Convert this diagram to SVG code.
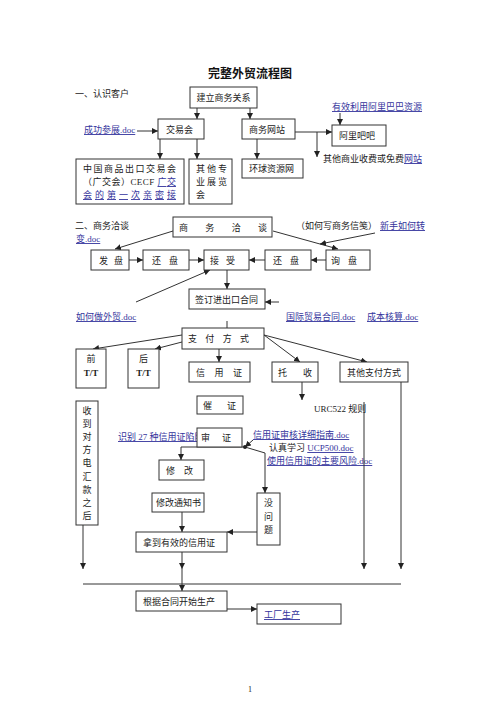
<svg xmlns="http://www.w3.org/2000/svg" width="500" height="707" viewBox="0 0 500 707">
<style>
.bg{fill:#fff}
.b{fill:#fff;stroke:#333;stroke-width:1}
.t{font-family:"Liberation Serif","Noto Sans CJK SC",serif;font-size:9px;fill:#222}
.l{fill:#34349c;text-decoration:underline}
.c line,.c path,.c polyline{stroke:#333;stroke-width:1;fill:none}
.ti{font-family:"Liberation Serif","Noto Sans CJK SC",serif;font-size:12px;font-weight:bold;fill:#111}
</style>
<defs>
<marker id="a" markerUnits="userSpaceOnUse" markerWidth="6" markerHeight="6" refX="6" refY="3" orient="auto"><path d="M0,0 L6,3 L0,6 z" fill="#222"/></marker>
</defs>
<rect class="bg" x="0" y="0" width="500" height="707"/>
<text class="ti" x="250" y="78" text-anchor="middle">完整外贸流程图</text>

<g id="labels" class="t">
<text x="75" y="97">一、认识客户</text>
<text x="84" y="133" class="l">成功参展.doc</text>
<text x="332" y="110" class="l">有效利用阿里巴巴资源</text>
<text x="323" y="162">其他商业收费或免费<tspan class="l">网站</tspan></text>
<text x="75" y="229">二、商务洽谈</text>
<text x="76" y="242" class="l">变.doc</text>
<text x="296" y="229">（如何写商务信笺）</text>
<text x="380" y="229" class="l">新手如何转</text>
<text x="76" y="320" class="l">如何做外贸.doc</text>
<text x="286" y="320" class="l">国际贸易合同.doc</text>
<text x="367" y="320" class="l">成本核算.doc</text>
<text x="314" y="412">URC522 规则</text>
<text x="118" y="440" class="l">识别 27 种信用证陷阱</text>
<text x="253" y="438" class="l">信用证审核详细指南.doc</text>
<text x="269" y="451">认真学习 <tspan class="l">UCP500.doc</tspan></text>
<text x="267" y="464" class="l">使用信用证的主要风险.doc</text>
<text x="250" y="692" text-anchor="middle" style="font-size:8px">1</text>
</g>

<g id="connectors" class="c">
<line x1="197" y1="108" x2="197" y2="119" marker-end="url(#a)"/>
<line x1="250" y1="108" x2="250" y2="119" marker-end="url(#a)"/>
<line x1="137" y1="131" x2="158" y2="131" marker-end="url(#a)"/>
<line x1="160" y1="139" x2="160" y2="159" marker-end="url(#a)"/>
<line x1="197" y1="139" x2="197" y2="159" marker-end="url(#a)"/>
<line x1="257" y1="139" x2="257" y2="159" marker-end="url(#a)"/>
<line x1="295" y1="132" x2="332" y2="132" marker-end="url(#a)"/>
<line x1="317" y1="132" x2="317" y2="157" marker-end="url(#a)"/>
<line x1="340" y1="113" x2="340" y2="125" marker-end="url(#a)"/>
<line x1="173" y1="231" x2="115" y2="249" marker-end="url(#a)"/>
<line x1="273" y1="231" x2="338" y2="249" marker-end="url(#a)"/>
<line x1="375" y1="233" x2="320" y2="244" marker-end="url(#a)"/>
<line x1="129" y1="260" x2="143" y2="260" marker-end="url(#a)"/>
<line x1="189" y1="260" x2="204" y2="260" marker-end="url(#a)"/>
<line x1="265" y1="260" x2="249" y2="260" marker-end="url(#a)"/>
<line x1="326" y1="260" x2="311" y2="260" marker-end="url(#a)"/>
<line x1="136" y1="302" x2="210" y2="270" marker-end="url(#a)"/>
<line x1="227" y1="270" x2="227" y2="289" marker-end="url(#a)"/>
<line x1="279" y1="302" x2="265" y2="302" marker-end="url(#a)"/>
<line x1="227" y1="321" x2="227" y2="328"/>
<line x1="182" y1="335" x2="93" y2="349" marker-end="url(#a)"/>
<line x1="182" y1="342" x2="155" y2="349" marker-end="url(#a)"/>
<line x1="219" y1="349" x2="219" y2="362" marker-end="url(#a)"/>
<line x1="264" y1="335" x2="300" y2="362" marker-end="url(#a)"/>
<line x1="264" y1="335" x2="367" y2="362" marker-end="url(#a)"/>
<line x1="302" y1="382" x2="302" y2="400" marker-end="url(#a)"/>
<line x1="364" y1="402" x2="364" y2="569" marker-end="url(#a)"/>
<line x1="401" y1="382" x2="401" y2="569" marker-end="url(#a)"/>
<line x1="83" y1="525" x2="83" y2="569" marker-end="url(#a)"/>
<line x1="83" y1="584" x2="401" y2="584"/>
<line x1="182" y1="552" x2="182" y2="569" marker-end="url(#a)"/>
<line x1="182" y1="569" x2="182" y2="591" marker-end="url(#a)"/>
<line x1="227" y1="609" x2="257" y2="609" marker-end="url(#a)"/>
<polyline points="245,447 181,447 181,460" marker-end="url(#a)"/>
<line x1="253" y1="440" x2="245" y2="447" marker-end="url(#a)"/>
<polyline points="245,447 265,453 265,493" marker-end="url(#a)"/>
<line x1="182" y1="512" x2="182" y2="532" marker-end="url(#a)"/>
<line x1="257" y1="532" x2="227" y2="532" marker-end="url(#a)"/>
<circle cx="245" cy="447" r="2" fill="#222" stroke="none"/>
</g>

<g id="n1"><rect class="b" x="190" y="87" width="67" height="21"/><text class="t" x="223.5" y="101" text-anchor="middle">建立商务关系</text></g>
<g id="n2"><rect class="b" x="158" y="119" width="46" height="20"/><text class="t" x="166" y="133">交易会</text></g>
<g id="n3"><rect class="b" x="242" y="119" width="53" height="20"/><text class="t" x="249" y="133">商务网站</text></g>
<g id="n4"><rect class="b" x="76" y="159" width="108" height="45"/>
<text class="t" x="83" y="172" textLength="93" lengthAdjust="spacing">中国商品出口交易会</text>
<text class="t" x="83" y="185" textLength="93" lengthAdjust="spacing">（广交会）CECF <tspan class="l">广交</tspan></text>
<text class="t l" x="83" y="198" textLength="93" lengthAdjust="spacing">会的第一次亲密接</text></g>
<g id="n5"><rect class="b" x="189" y="159" width="43" height="45"/>
<text class="t" x="196" y="172" textLength="31" lengthAdjust="spacing">其他专</text>
<text class="t" x="196" y="185" textLength="31" lengthAdjust="spacing">业展览</text>
<text class="t" x="196" y="198">会</text></g>
<g id="n6"><rect class="b" x="242" y="159" width="61" height="19"/><text class="t" x="249" y="172">环球资源网</text></g>
<g id="n7"><rect class="b" x="332" y="125" width="54" height="21"/><text class="t" x="339" y="139">阿里吧吧</text></g>

<g id="n8"><rect class="b" x="173" y="217" width="99" height="20"/><text class="t" x="179" y="231" textLength="88" lengthAdjust="spacing">商务洽谈</text></g>
<g id="n9"><rect class="b" x="91" y="250" width="38" height="20"/><text class="t" x="99" y="264" textLength="24" lengthAdjust="spacing">发盘</text></g>
<g id="n10"><rect class="b" x="143" y="250" width="46" height="20"/><text class="t" x="152" y="264" textLength="26" lengthAdjust="spacing">还盘</text></g>
<g id="n11"><rect class="b" x="204" y="250" width="45" height="20"/><text class="t" x="210" y="264" textLength="25" lengthAdjust="spacing">接受</text></g>
<g id="n12"><rect class="b" x="265" y="250" width="46" height="20"/><text class="t" x="273" y="264" textLength="26" lengthAdjust="spacing">还盘</text></g>
<g id="n13"><rect class="b" x="326" y="250" width="44" height="20"/><text class="t" x="331" y="264" textLength="26" lengthAdjust="spacing">询盘</text></g>
<g id="n14"><rect class="b" x="189" y="289" width="76" height="20"/><text class="t" x="195" y="303">签订进出口合同</text></g>

<g id="n15"><rect class="b" x="182" y="328" width="82" height="21"/><text class="t" x="188" y="342" textLength="61" lengthAdjust="spacing">支付方式</text></g>
<g id="n16"><rect class="b" x="76" y="349" width="30" height="39"/><text class="t" x="91" y="362" text-anchor="middle">前</text><text class="t" x="91" y="376" text-anchor="middle" font-weight="bold">T/T</text></g>
<g id="n17"><rect class="b" x="128" y="349" width="31" height="39"/><text class="t" x="143.5" y="362" text-anchor="middle">后</text><text class="t" x="143.5" y="376" text-anchor="middle" font-weight="bold">T/T</text></g>
<g id="n18"><rect class="b" x="189" y="362" width="61" height="20"/><text class="t" x="196" y="376" textLength="46" lengthAdjust="spacing">信用证</text></g>
<g id="n19"><rect class="b" x="272" y="362" width="46" height="20"/><text class="t" x="278" y="376" textLength="34" lengthAdjust="spacing">托收</text></g>
<g id="n20"><rect class="b" x="340" y="362" width="68" height="20"/><text class="t" x="347" y="376">其他支付方式</text></g>
<g id="n21"><rect class="b" x="197" y="396" width="46" height="18"/><text class="t" x="203" y="409" textLength="33" lengthAdjust="spacing">催证</text></g>
<g id="n22"><rect class="b" x="76" y="401" width="22" height="124"/>
<text class="t" x="87" text-anchor="middle"><tspan x="87" y="414">收</tspan><tspan x="87" y="427">到</tspan><tspan x="87" y="440">对</tspan><tspan x="87" y="453">方</tspan><tspan x="87" y="466">电</tspan><tspan x="87" y="480">汇</tspan><tspan x="87" y="493">款</tspan><tspan x="87" y="506">之</tspan><tspan x="87" y="519">后</tspan></text></g>
<g id="n23"><rect class="b" x="197" y="428" width="45" height="19"/><text class="t" x="201" y="441" textLength="30" lengthAdjust="spacing">审证</text></g>
<g id="n24"><rect class="b" x="159" y="460" width="45" height="20"/><text class="t" x="166" y="474" textLength="27" lengthAdjust="spacing">修改</text></g>
<g id="n25"><rect class="b" x="152" y="493" width="52" height="19"/><text class="t" x="156" y="506">修改通知书</text></g>
<g id="n26"><rect class="b" x="257" y="493" width="23" height="52"/>
<text class="t" text-anchor="middle"><tspan x="268.5" y="506">没</tspan><tspan x="268.5" y="520">问</tspan><tspan x="268.5" y="533">题</tspan></text></g>
<g id="n27"><rect class="b" x="136" y="532" width="91" height="20"/><text class="t" x="143" y="546">拿到有效的信用证</text></g>
<g id="n28"><rect class="b" x="136" y="591" width="91" height="20"/><text class="t" x="143" y="605">根据合同开始生产</text></g>
<g id="n29"><rect class="b" x="257" y="604" width="84" height="20"/><text class="t l" x="264" y="618">工厂生产</text></g>
</svg>
